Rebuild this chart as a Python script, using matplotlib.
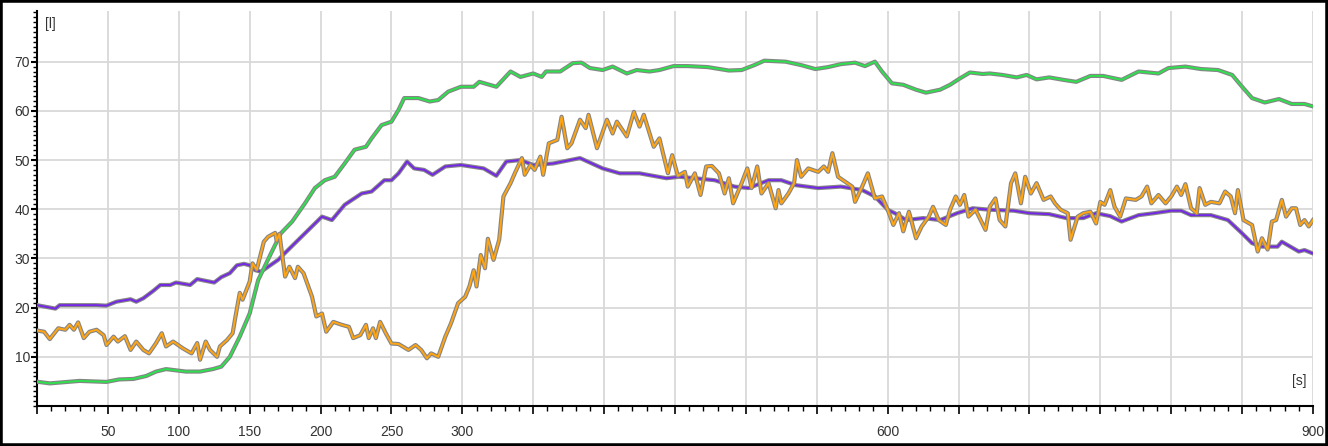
import numpy as np
import matplotlib
matplotlib.use("Agg")
import matplotlib.pyplot as plt
import matplotlib.patheffects as pe
from matplotlib.patches import Rectangle
from matplotlib.ticker import MultipleLocator

plt.rcParams['font.family'] = ['Liberation Sans', 'DejaVu Sans']

# (time [s], volume [l])
green_pts = np.array([
    (1, 4.9), (9, 4.6), (30, 5.1), (49, 4.9), (58, 5.4), (68, 5.5), (77, 6.1), (84, 7.0),
    (91, 7.5), (105, 7.0), (115, 7.0), (124, 7.5), (130, 8.0), (136, 10.0), (143, 14.1),
    (150, 18.8), (156, 25.6), (165, 31.0), (172, 35.1), (180, 37.5), (189, 41.2), (196, 44.3),
    (203, 45.9), (210, 46.6), (217, 49.3), (224, 52.1), (232, 52.7), (236, 54.4), (243, 57.1),
    (250, 57.8), (255, 60.2), (259, 62.6), (269, 62.6), (277, 61.9), (283, 62.2), (290, 63.9),
    (299, 64.9), (308, 64.9), (312, 65.9), (324, 64.9), (334, 68.0), (341, 66.9), (350, 67.6),
    (356, 66.9), (359, 68.0), (369, 68.0), (378, 69.7), (384, 69.8), (390, 68.7), (399, 68.3),
    (406, 69.0), (416, 67.6), (423, 68.3), (432, 68.0), (439, 68.3), (449, 69.1), (459, 69.1),
    (473, 68.9), (488, 68.2), (497, 68.3), (506, 69.3), (513, 70.2), (528, 70.0), (539, 69.3),
    (549, 68.5), (558, 68.9), (567, 69.5), (577, 69.8), (584, 69.1), (591, 70.0), (596, 68.0),
    (603, 65.6), (611, 65.3), (620, 64.3), (627, 63.7), (637, 64.3), (644, 65.3), (651, 66.6),
    (658, 67.8), (667, 67.5), (672, 67.6), (681, 67.3), (691, 66.8), (698, 67.3), (705, 66.4),
    (714, 66.8), (724, 66.3), (733, 65.9), (743, 67.1), (752, 67.1), (765, 66.3), (777, 68.0),
    (791, 67.6), (798, 68.7), (810, 69.0), (821, 68.5), (833, 68.3), (843, 67.3), (850, 64.9),
    (857, 62.6), (866, 61.7), (876, 62.4), (885, 61.4), (894, 61.4), (900, 60.9),
])

purple_pts = np.array([
    (0, 20.5), (13, 19.8), (16, 20.5), (30, 20.5), (42, 20.5), (49, 20.4), (56, 21.2),
    (66, 21.7), (70, 21.2), (75, 21.9), (82, 23.4), (87, 24.6), (94, 24.6), (98, 25.1),
    (108, 24.6), (113, 25.8), (118, 25.5), (125, 25.1), (130, 26.2), (136, 27.0), (141, 28.6),
    (146, 28.9), (150, 28.6), (154, 27.6), (158, 27.3), (170, 29.7), (177, 31.7), (189, 35.1),
    (201, 38.5), (208, 37.8), (217, 40.9), (229, 43.2), (236, 43.6), (245, 45.9), (250, 45.9),
    (255, 47.3), (261, 49.7), (266, 48.3), (273, 48.0), (279, 47.0), (288, 48.7), (299, 49.0),
    (315, 48.3), (324, 46.8), (331, 49.7), (341, 50.0), (350, 49.0), (364, 49.3), (383, 50.4),
    (399, 48.3), (411, 47.3), (425, 47.3), (444, 46.3), (453, 46.6), (464, 46.3), (478, 45.9),
    (492, 44.6), (502, 44.3), (516, 45.9), (525, 45.9), (535, 44.9), (551, 44.3), (567, 44.6),
    (582, 43.9), (591, 42.6), (600, 39.9), (605, 39.2), (613, 37.8), (625, 38.2), (637, 37.8),
    (649, 39.2), (660, 40.2), (672, 39.9), (689, 39.7), (700, 39.2), (714, 39.0), (726, 38.2),
    (738, 38.2), (747, 39.2), (757, 38.6), (765, 37.5), (777, 38.8), (788, 39.2), (800, 39.7),
    (807, 39.7), (814, 38.8), (828, 38.8), (840, 37.8), (850, 35.1), (857, 33.1), (864, 32.4),
    (875, 32.4), (878, 33.4), (890, 31.4), (894, 31.7), (900, 31.0),
])

orange_pts = np.array([
    (1, 15.3), (5, 15.1), (9, 13.6), (15, 15.8), (20, 15.5), (23, 16.5), (26, 15.5), (29, 17.0),
    (33, 13.8), (37, 15.1), (42, 15.5), (47, 14.4), (49, 12.4), (54, 14.1), (57, 13.1),
    (62, 14.2), (66, 11.4), (70, 13.1), (75, 11.4), (79, 10.7), (84, 12.8), (88, 14.8),
    (91, 12.1), (96, 13.1), (103, 11.7), (109, 10.7), (113, 12.8), (115, 9.4), (119, 13.1),
    (122, 11.4), (127, 10.0), (129, 12.1), (134, 13.4), (138, 14.8), (140, 18.2), (143, 23.0),
    (145, 21.6), (150, 25.3), (152, 29.0), (155, 27.7), (160, 33.4), (163, 34.4), (168, 35.2),
    (169, 33.6), (171, 35.0), (175, 26.3), (178, 28.3), (182, 26.0), (184, 28.3), (188, 27.0),
    (194, 22.2), (197, 18.2), (201, 18.8), (204, 15.1), (209, 17.1), (215, 16.5), (220, 16.1),
    (223, 13.8), (228, 14.4), (232, 16.5), (234, 13.8), (237, 15.8), (239, 13.8), (242, 17.1),
    (246, 14.8), (250, 12.7), (255, 12.6), (262, 11.4), (267, 12.4), (271, 11.4), (275, 9.7),
    (278, 10.7), (283, 10.0), (288, 14.1), (292, 16.8), (297, 20.9), (302, 22.2), (305, 24.3),
    (308, 27.6), (310, 24.3), (313, 30.7), (316, 28.0), (318, 34.0), (322, 29.7), (326, 33.8),
    (329, 42.6), (334, 45.3), (337, 47.3), (342, 50.4), (344, 47.0), (348, 49.0), (351, 48.0),
    (355, 50.7), (357, 47.0), (361, 53.4), (367, 54.1), (370, 58.8), (374, 52.4), (377, 53.4),
    (383, 58.2), (387, 56.5), (389, 59.2), (395, 52.4), (402, 58.2), (406, 55.4), (409, 57.8),
    (416, 54.8), (421, 59.8), (425, 56.8), (428, 59.2), (435, 52.7), (439, 54.4), (445, 47.3),
    (448, 51.0), (452, 46.8), (457, 47.6), (459, 44.6), (464, 47.3), (468, 42.9), (472, 48.7),
    (476, 48.8), (481, 47.3), (485, 43.2), (488, 46.3), (491, 41.2), (497, 45.3), (501, 48.3),
    (504, 44.3), (508, 48.7), (511, 43.2), (516, 45.3), (521, 40.2), (523, 43.9), (525, 41.2),
    (530, 43.2), (534, 45.3), (536, 50.0), (539, 46.6), (544, 48.3), (551, 47.6), (555, 48.7),
    (558, 47.6), (561, 51.4), (565, 46.6), (570, 45.6), (575, 44.6), (577, 41.5), (582, 44.6),
    (586, 47.3), (591, 42.2), (596, 42.6), (600, 39.9), (604, 36.8), (608, 39.2), (611, 35.5),
    (615, 39.5), (620, 34.1), (624, 36.5), (629, 38.5), (632, 40.5), (636, 37.8), (641, 36.8),
    (644, 39.9), (648, 42.6), (651, 40.9), (654, 42.9), (657, 38.5), (662, 39.9), (669, 35.8),
    (672, 40.5), (676, 42.2), (679, 37.8), (683, 36.5), (687, 45.3), (690, 47.3), (694, 41.2),
    (697, 46.6), (701, 43.2), (705, 45.3), (710, 41.9), (715, 42.6), (718, 41.2), (722, 39.9),
    (727, 39.2), (729, 33.8), (734, 38.5), (738, 39.2), (743, 39.5), (747, 37.1), (750, 41.5),
    (753, 40.9), (757, 43.9), (760, 40.5), (764, 38.5), (768, 42.2), (775, 41.9), (779, 42.6),
    (783, 44.6), (786, 41.2), (791, 42.9), (796, 41.2), (800, 42.6), (804, 44.6), (807, 42.9),
    (810, 45.1), (814, 40.2), (818, 39.2), (820, 44.3), (824, 40.9), (828, 41.5), (834, 41.2),
    (838, 43.6), (842, 42.6), (845, 39.2), (847, 43.9), (851, 37.8), (857, 36.8), (861, 31.4),
    (864, 34.1), (868, 31.8), (871, 37.5), (874, 37.8), (878, 41.9), (881, 38.5), (885, 40.2),
    (888, 40.2), (891, 36.8), (894, 37.8), (897, 36.5), (900, 37.8),
])

x_major = np.arange(0, 901, 50)
x_labels = ['', '50', '100', '150', '200', '250', '300', '', '', '', '', '', '600',
            '', '', '', '', '', '900']

fig = plt.figure(figsize=(13.28, 4.46), dpi=100)
ax = fig.add_axes([37 / 1328, 40 / 446, 1276 / 1328, 395 / 446])

# farbige Linie mit grauem Rand
outline = [pe.Stroke(linewidth=3.0, foreground='#858585'), pe.Normal()]
ax.plot(purple_pts[:, 0], purple_pts[:, 1], color='#7428e6', lw=1.4, path_effects=outline, zorder=3)
ax.plot(green_pts[:, 0], green_pts[:, 1], color='#2fe04e', lw=1.4, path_effects=outline, zorder=4)
ax.plot(orange_pts[:, 0], orange_pts[:, 1], color='#ffa514', lw=1.4, path_effects=outline, zorder=5)

ax.set_xlim(0, 900)
ax.set_ylim(0, 80.3)

ax.set_xticks(x_major)
ax.set_xticklabels(x_labels)
ax.xaxis.set_minor_locator(MultipleLocator(10))
ax.set_yticks(np.arange(10, 71, 10))
ax.yaxis.set_minor_locator(MultipleLocator(1))

ax.tick_params(axis='x', which='major', length=6, width=1.2, color='black',
               labelsize=10, labelcolor='#333333', pad=8)
ax.tick_params(axis='x', which='minor', length=3.5, width=1.0, color='black')
ax.tick_params(axis='y', which='major', length=4, width=1.5, color='black',
               labelsize=10, labelcolor='#333333', pad=1)
ax.tick_params(axis='y', which='minor', length=3, width=1.0, color='black')

ax.grid(True, which='major', color='#d9d9d9', lw=1.3, zorder=0)
ax.set_axisbelow(True)

for side in ['top', 'right']:
    ax.spines[side].set_visible(False)
ax.spines['left'].set_linewidth(1.5)
ax.spines['bottom'].set_linewidth(1.5)

ax.text(0.006, 0.985, '[l]', transform=ax.transAxes, fontsize=10, color='#333333',
        ha='left', va='top')
ax.text(0.995, 0.045, '[s]', transform=ax.transAxes, fontsize=10, color='#333333',
        ha='right', va='bottom')

fig.patches.append(Rectangle((0, 0), 1, 1, transform=fig.transFigure, fill=False,
                             edgecolor='black', lw=4, zorder=10))

fig.savefig('out.png', dpi=100)
